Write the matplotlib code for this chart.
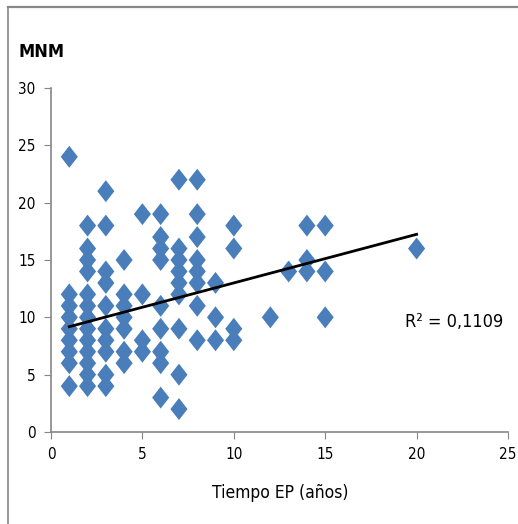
import matplotlib
matplotlib.use("Agg")
import matplotlib.pyplot as plt
from matplotlib.lines import Line2D
import numpy as np

# Data: (tiempo EP in years, MNM)
x1 = [1] * 9;  y1 = [24, 12, 11, 10, 9, 8, 7, 6, 4]
x2 = [2] * 13; y2 = [18, 16, 15, 14, 12, 11, 10, 9, 8, 7, 6, 5, 4]
x3 = [3] * 10; y3 = [21, 18, 14, 13, 11, 9, 8, 7, 5, 4]
x4 = [4] * 7;  y4 = [15, 12, 11, 10, 9, 7, 6]
x5 = [5] * 4;  y5 = [19, 12, 8, 7]
x6 = [6] * 9;  y6 = [19, 17, 16, 15, 11, 9, 7, 6, 3]
x7 = [7] * 9;  y7 = [22, 16, 15, 14, 13, 12, 9, 5, 2]
x8 = [8] * 8;  y8 = [22, 19, 17, 15, 14, 13, 11, 8]
x9 = [9] * 3;  y9 = [13, 10, 8]
x10 = [10] * 4; y10 = [18, 16, 9, 8]
x_rest = [12, 13, 14, 14, 14, 15, 15, 15, 20]
y_rest = [10, 14, 18, 15, 14, 18, 14, 10, 16]

tiempo = x1 + x2 + x3 + x4 + x5 + x6 + x7 + x8 + x9 + x10 + x_rest
mnm = y1 + y2 + y3 + y4 + y5 + y6 + y7 + y8 + y9 + y10 + y_rest

# Trendline
trend_slope = 0.424
trend_intercept = 8.76
trend_x = [1, 20]
r2_label = "R² = 0,1109"

x_ticks = [0, 5, 10, 15, 20, 25]
y_ticks = [0, 5, 10, 15, 20, 25, 30]

plt.rcParams['font.family'] = ['DejaVu Sans']
plt.rcParams['font.stretch'] = 'condensed'

W, H = 518, 524
fig = plt.figure(figsize=(W / 100, H / 100), dpi=100)
ax = fig.add_axes([51 / W, (H - 432) / H, 457 / W, 344 / H])

diamond = [(-0.78, 0), (0, 1), (0.78, 0), (0, -1), (-0.78, 0)]
ax.scatter(tiempo, mnm, marker=diamond, s=250, color='#4a7ebb', edgecolors='none', zorder=3)
tx = np.array(trend_x, dtype=float)
ax.plot(tx, trend_slope * tx + trend_intercept, color='black', lw=2, zorder=4)

ax.set_xlim(0, 25)
ax.set_ylim(0, 30)
ax.set_xticks(x_ticks)
ax.set_yticks(y_ticks)
ax.tick_params(axis='both', direction='out', length=5, color='#868686', labelsize=11, pad=6)
for s in ['top', 'right']:
    ax.spines[s].set_visible(False)
for s in ['left', 'bottom']:
    ax.spines[s].set_color('#868686')
    ax.spines[s].set_linewidth(1.2)

ax.text(19.35, 9.6, r2_label, fontsize=13, va='center', ha='left')

fig.text(18 / W, 1 - 52 / H, 'MNM', fontsize=13, fontweight='bold', va='center', ha='left')
fig.text(280 / W, 1 - 493 / H, 'Tiempo EP (años)', fontsize=12.5, va='center', ha='center')

# outer frame (top and left)
fig.add_artist(Line2D([8 / W, 1], [1 - 7 / H, 1 - 7 / H], transform=fig.transFigure, color='#888888', lw=1.6))
fig.add_artist(Line2D([8 / W, 8 / W], [0, 1 - 7 / H], transform=fig.transFigure, color='#888888', lw=1.2))

fig.savefig('out.png', dpi=100)
